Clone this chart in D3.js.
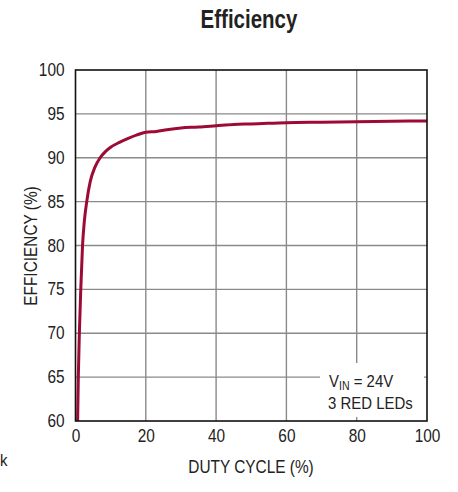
<!DOCTYPE html>
<html><head><meta charset="utf-8">
<script src="https://cdn.jsdelivr.net/npm/d3@7"></script>
<style>
body{margin:0;background:#fff;}
text{font-family:"Liberation Sans Narrow","Arial Narrow","Liberation Sans",Arial,sans-serif;fill:#222;}
</style></head><body>
<svg id="c" width="458" height="492"></svg>
<script>
const duty = [0.6, 0.8, 1.1, 1.5, 2.0, 2.5, 3.2, 4.2, 5.5, 7.0, 8.5, 10, 12.5, 15, 17.5, 20, 23, 26, 30, 35, 40, 45, 50, 60, 70, 80, 90, 100];
const efficiency = [60, 65, 70, 75, 80, 82.7, 85, 87.3, 88.9, 90, 90.7, 91.2, 91.75, 92.2, 92.6, 92.9, 93.0, 93.2, 93.4, 93.5, 93.65, 93.8, 93.85, 94.0, 94.05, 94.1, 94.15, 94.2];
const xTicks = [0, 20, 40, 60, 80, 100];
const yTicks = [60, 65, 70, 75, 80, 85, 90, 95, 100];

const svg = d3.select("#c");
const L = 75.5, R = 427, T = 70, B = 421;
const SX = 0.88;
const x = d3.scaleLinear().domain([0, 100]).range([L, R]);
const y = d3.scaleLinear().domain([60, 100]).range([B, T]);

function label(px, py, txt, size, opts = {}) {
  const gg = svg.append("g").attr("transform", `translate(${px},${py})${opts.rot ? " rotate(-90)" : ""} scale(${opts.sx || SX},1)`);
  const t = gg.append("text").attr("text-anchor", opts.anchor || "middle").style("font-size", size + "px");
  if (opts.bold) t.style("font-weight", "bold");
  t.text(txt);
  return t;
}

// grid
const g = svg.append("g");
g.selectAll("line.vx").data(xTicks.slice(1, -1)).enter().append("line")
  .attr("x1", d => x(d)).attr("x2", d => x(d)).attr("y1", T).attr("y2", B)
  .attr("stroke", "#8a8a8a").attr("stroke-width", 1.4);
g.selectAll("line.hy").data(yTicks.slice(1, -1)).enter().append("line")
  .attr("y1", d => y(d)).attr("y2", d => y(d)).attr("x1", L).attr("x2", R)
  .attr("stroke", "#8a8a8a").attr("stroke-width", 1.4);

// annotation box background
svg.append("rect").attr("x", 320).attr("y", 363).attr("width", 104).attr("height", 54).attr("fill", "#fff");

// curve
const line = d3.line().x((d, i) => x(duty[i])).y((d, i) => y(efficiency[i])).curve(d3.curveMonotoneX);
svg.append("path").datum(efficiency).attr("d", line)
  .attr("fill", "none").attr("stroke", "#9c0a35").attr("stroke-width", 3).attr("stroke-linejoin", "round");

// frame
svg.append("rect").attr("x", L).attr("y", T).attr("width", R - L).attr("height", B - T)
  .attr("fill", "none").attr("stroke", "#111").attr("stroke-width", 1.6);

// axes tick labels
const xa = d3.axisBottom(x).tickValues(xTicks).tickSize(0).tickPadding(9);
const xg = svg.append("g").attr("transform", `translate(0,${B})`).call(xa);
xg.select(".domain").remove();
xg.selectAll("text").style("font-size", "17.5px").attr("fill", "#222").attr("transform", `scale(${SX},1)`);
const ya = d3.axisLeft(y).tickValues(yTicks).tickSize(0).tickPadding(0);
const yg = svg.append("g").attr("transform", `translate(${L},0)`).call(ya);
yg.select(".domain").remove();
yg.selectAll("text").style("font-size", "17.5px").attr("fill", "#222").attr("x", 0)
  .attr("transform", `translate(-11,0) scale(${SX},1)`);

label(249, 28, "Efficiency", 25, {bold: true, sx: 0.82});
label(251, 473, "DUTY CYCLE (%)", 17.5);
label(37, 246, "EFFICIENCY (%)", 17.5, {rot: true});

const t1 = label(329, 387, "", 17, {anchor: "start"});
t1.append("tspan").text("V");
t1.append("tspan").attr("dy", 3).style("font-size", "12px").text("IN");
t1.append("tspan").attr("dy", -3).text(" = 24V");
label(328, 409, "3 RED LEDs", 17, {anchor: "start"});

label(0, 466, "k", 17, {anchor: "start"});
</script></body></html>
